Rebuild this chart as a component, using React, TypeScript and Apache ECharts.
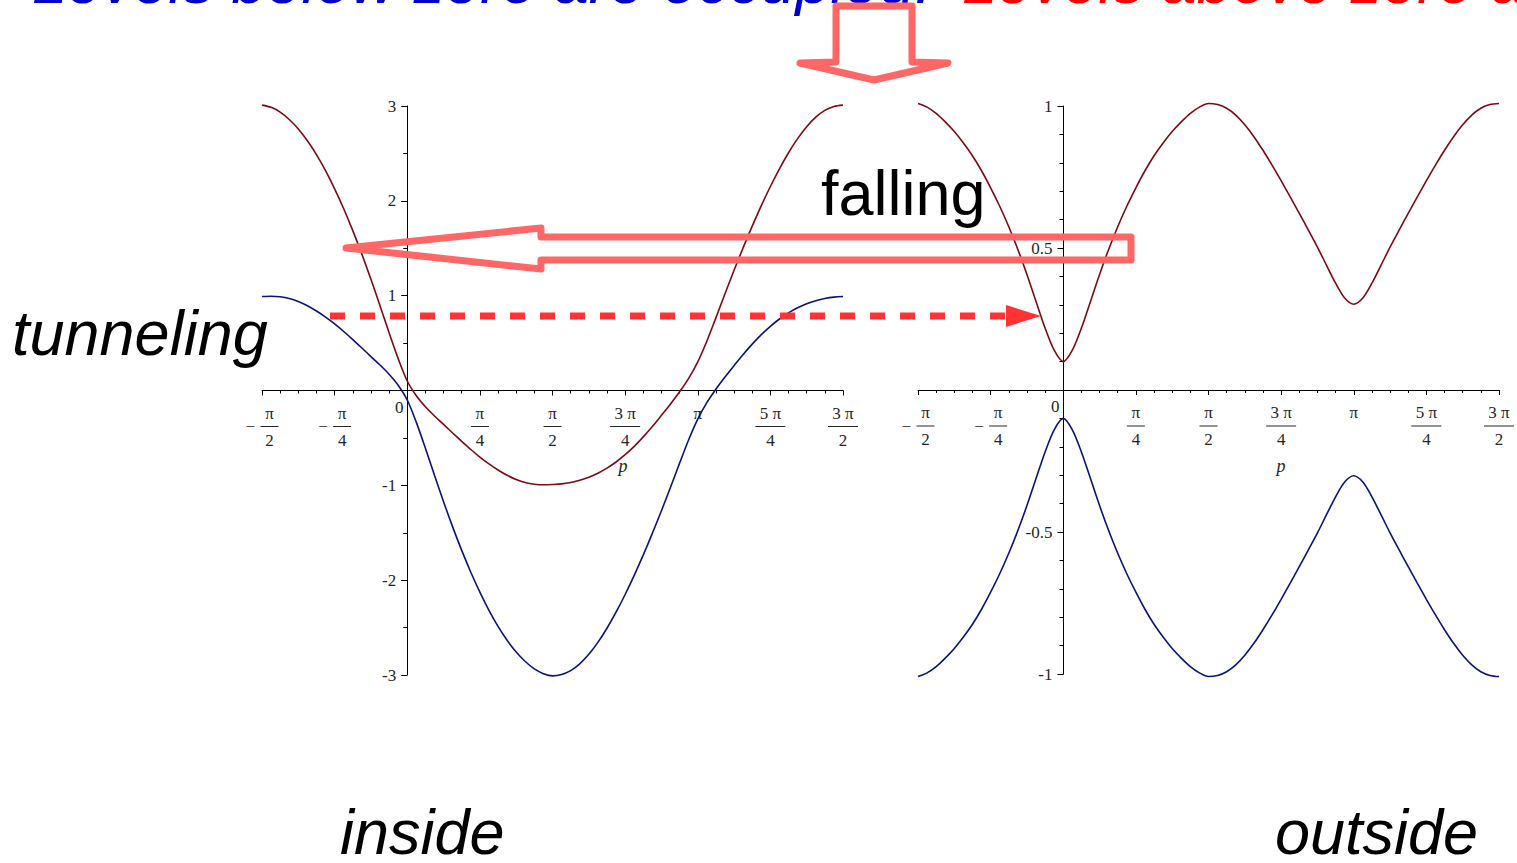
import React, { useEffect, useRef } from 'react';
import * as echarts from 'echarts';

// Momentum p, in units of π
const momentum = [
  -0.5, -0.46875, -0.4375, -0.40625, -0.375, -0.34375, -0.3125, -0.28125,
  -0.25, -0.21875, -0.1875, -0.15625, -0.125, -0.09375, -0.0625, -0.03125,
  0, 0.03125, 0.0625, 0.09375, 0.125, 0.15625, 0.1875, 0.21875,
  0.25, 0.28125, 0.3125, 0.34375, 0.375, 0.40625, 0.4375, 0.46875,
  0.5, 0.53125, 0.5625, 0.59375, 0.625, 0.65625, 0.6875, 0.71875,
  0.75, 0.78125, 0.8125, 0.84375, 0.875, 0.90625, 0.9375, 0.96875,
  1, 1.03125, 1.0625, 1.09375, 1.125, 1.15625, 1.1875, 1.21875,
  1.25, 1.28125, 1.3125, 1.34375, 1.375, 1.40625, 1.4375, 1.46875, 1.5,
];

// Inside: the two bands
const insideUpper = [
  3.009, 2.986, 2.936, 2.858, 2.758, 2.634, 2.488, 2.318,
  2.126, 1.916, 1.686, 1.438, 1.172, 0.893, 0.608, 0.336,
  0.1, -0.056, -0.172, -0.269, -0.358, -0.448, -0.536, -0.622,
  -0.702, -0.774, -0.838, -0.894, -0.938, -0.97, -0.988, -0.994,
  -0.991, -0.985, -0.97, -0.946, -0.914, -0.872, -0.819, -0.754,
  -0.677, -0.589, -0.489, -0.38, -0.262, -0.142, -0.014, 0.128,
  0.302, 0.52, 0.766, 1.02, 1.268, 1.506, 1.733, 1.949,
  2.151, 2.338, 2.507, 2.656, 2.782, 2.882, 2.954, 2.995, 3.009,
];
const insideLower = [
  0.991, 0.994, 0.988, 0.97, 0.938, 0.894, 0.838, 0.774,
  0.702, 0.622, 0.536, 0.448, 0.358, 0.269, 0.172, 0.056,
  -0.1, -0.336, -0.608, -0.893, -1.172, -1.438, -1.686, -1.916,
  -2.126, -2.318, -2.488, -2.634, -2.758, -2.858, -2.936, -2.986,
  -3.009, -2.995, -2.954, -2.882, -2.782, -2.656, -2.507, -2.338,
  -2.151, -1.949, -1.733, -1.506, -1.268, -1.02, -0.766, -0.52,
  -0.302, -0.128, 0.014, 0.142, 0.262, 0.38, 0.489, 0.589,
  0.677, 0.754, 0.819, 0.872, 0.914, 0.946, 0.97, 0.985, 0.991,
];

// Outside: the two bands
const outsideUpper = [
  1.009, 0.996, 0.974, 0.944, 0.91, 0.87, 0.825, 0.772,
  0.712, 0.647, 0.575, 0.495, 0.407, 0.312, 0.218, 0.14,
  0.1, 0.14, 0.218, 0.312, 0.407, 0.495, 0.575, 0.647,
  0.712, 0.772, 0.825, 0.87, 0.91, 0.944, 0.974, 0.996,
  1.009, 1.005, 0.992, 0.968, 0.934, 0.892, 0.844, 0.792,
  0.737, 0.68, 0.622, 0.563, 0.503, 0.439, 0.376, 0.324,
  0.302, 0.324, 0.376, 0.439, 0.503, 0.563, 0.622, 0.68,
  0.737, 0.792, 0.844, 0.892, 0.934, 0.968, 0.992, 1.005, 1.009,
];
const outsideLower = [
  -1.009, -0.996, -0.974, -0.944, -0.91, -0.87, -0.825, -0.772,
  -0.712, -0.647, -0.575, -0.495, -0.407, -0.312, -0.218, -0.14,
  -0.1, -0.14, -0.218, -0.312, -0.407, -0.495, -0.575, -0.647,
  -0.712, -0.772, -0.825, -0.87, -0.91, -0.944, -0.974, -0.996,
  -1.009, -1.005, -0.992, -0.968, -0.934, -0.892, -0.844, -0.792,
  -0.737, -0.68, -0.622, -0.563, -0.503, -0.439, -0.376, -0.324,
  -0.302, -0.324, -0.376, -0.439, -0.503, -0.563, -0.622, -0.68,
  -0.737, -0.792, -0.844, -0.892, -0.934, -0.968, -0.992, -1.005, -1.009,
];

// Tick labels of the momentum axis
const xTickValues = [-0.5, -0.25, 0, 0.25, 0.5, 0.75, 1, 1.25, 1.5];
const xTickLabels = ['-π/2', '-π/4', '0', 'π/4', 'π/2', '3 π/4', 'π', '5 π/4', '3 π/2'];

const SERIF = '"Liberation Serif", "Times New Roman", serif';
const SANS = '"Liberation Sans", Arial, Helvetica, sans-serif';
const BAND_RED = '#7C0A14';
const BAND_BLUE = '#0A1478';
const ARROW = '#FF6666';
const DASH = '#FF3333';
const LABEL = '#262626';

// Maple-style stacked fractions for the tick labels
function piLabel(value: number): string {
  const i = xTickValues.findIndex((v) => Math.abs(v - value) < 1e-6);
  if (i < 0) return '';
  const lab = xTickLabels[i];
  if (lab === '0') return '{zero|0}';
  if (lab.indexOf('/') < 0) return `{num|${lab}}`;
  const neg = lab.startsWith('-');
  const body = neg ? lab.slice(1) : lab;
  const [num, den] = body.split('/');
  const w = num.length > 1 ? 'w' : '';
  if (neg) {
    return `{sp| }{num${w}|${num}}\n{minus|−}{bar${w}| }\n{sp| }{num${w}|${den}}`;
  }
  return `{num${w}|${num}}\n{bar${w}| }\n{num${w}|${den}}`;
}

const fractionRich = {
  num: { width: 18, align: 'center', fontSize: 17, lineHeight: 13, fontFamily: SERIF, color: LABEL },
  numw: { width: 30, align: 'center', fontSize: 17, lineHeight: 13, fontFamily: SERIF, color: LABEL },
  bar: { width: 18, height: 1, lineHeight: 14, backgroundColor: LABEL },
  barw: { width: 30, height: 1, lineHeight: 14, backgroundColor: LABEL },
  sp: { width: 15, lineHeight: 13, fontSize: 17 },
  minus: { width: 15, align: 'left', fontSize: 17, lineHeight: 14, fontFamily: SERIF, color: LABEL },
  zero: { fontSize: 17, lineHeight: 1, padding: [0, 16, 0, 0], fontFamily: SERIF, color: LABEL },
};

// The axes cross at the origin: each one is shifted from the grid edge onto the other's zero
function xAxisFor(gridIndex: number, offset: number) {
  return {
    type: 'value',
    gridIndex,
    position: 'bottom',
    offset,
    min: -0.5,
    max: 1.5,
    interval: 0.25,
    axisLine: { onZero: false, lineStyle: { color: '#000', width: 1 } },
    axisTick: { show: true, length: 5, lineStyle: { color: '#000', width: 1 } },
    minorTick: { show: true, splitNumber: 4, length: 3, lineStyle: { color: '#000', width: 1 } },
    splitLine: { show: false },
    minorSplitLine: { show: false },
    axisLabel: {
      formatter: piLabel,
      margin: 16,
      fontFamily: SERIF,
      fontSize: 17,
      lineHeight: 13,
      color: LABEL,
      rich: fractionRich,
      showMinLabel: true,
      showMaxLabel: true,
    },
  };
}

function yAxisFor(gridIndex: number, offset: number, min: number, max: number, interval: number, minorSplit: number) {
  return {
    type: 'value',
    gridIndex,
    position: 'left',
    offset,
    min,
    max,
    interval,
    axisLine: { show: true, onZero: false, lineStyle: { color: '#000', width: 1 } },
    axisTick: { show: true, length: 6, lineStyle: { color: '#000', width: 1 } },
    minorTick: { show: true, splitNumber: minorSplit, length: 4, lineStyle: { color: '#000', width: 1 } },
    splitLine: { show: false },
    minorSplitLine: { show: false },
    axisLabel: {
      formatter: (v: number) => (Math.abs(v) < 1e-9 ? '' : String(v)),
      margin: 11,
      fontFamily: SERIF,
      fontSize: 17,
      color: LABEL,
    },
  };
}

function band(data: number[], xAxisIndex: number, color: string) {
  return {
    type: 'line',
    xAxisIndex,
    yAxisIndex: xAxisIndex,
    data: momentum.map((p, i) => [p, data[i]]),
    smooth: 0.3,
    showSymbol: false,
    clip: false,
    lineStyle: { color, width: 1.6 },
    z: 3,
  };
}

function bigText(text: string, x: number, y: number, opts: Record<string, unknown> = {}) {
  return {
    type: 'text',
    x,
    y,
    z: 100,
    style: {
      text,
      font: `63px ${SANS}`,
      fill: '#000',
      lineHeight: 50,
      textAlign: 'left',
      textVerticalAlign: 'middle',
      verticalAlign: 'middle',
      ...opts,
    },
  };
}

const option = {
  animation: false,
  backgroundColor: '#ffffff',
  grid: [
    { left: 262, top: 106, width: 581, height: 569 },
    { left: 918, top: 106, width: 582, height: 568 },
  ],
  xAxis: [xAxisFor(0, -284.5), xAxisFor(1, -284)],
  yAxis: [yAxisFor(0, -145.25, -3, 3, 1, 2), yAxisFor(1, -145.5, -1, 1, 0.5, 5)],
  series: [
    band(insideUpper, 0, BAND_RED),
    band(insideLower, 0, BAND_BLUE),
    band(outsideUpper, 1, BAND_RED),
    band(outsideLower, 1, BAND_BLUE),
  ],
  graphic: [
    // headline
    bigText('Levels below zero are occupied.', 32, -19, { font: `italic 63px ${SANS}`, fill: '#0000CC' }),
    bigText('Levels above zero are empty.', 962, -19, { font: `italic 63px ${SANS}`, fill: '#FF0000' }),
    // hollow arrow pointing down
    {
      type: 'polygon',
      z: 100,
      shape: { points: [[836, 6], [912, 6], [912, 62], [948, 63], [874, 80], [800, 63], [836, 62]] },
      style: { fill: 'none', stroke: ARROW, lineWidth: 7, lineJoin: 'round' },
    },
    // hollow arrow pointing left
    {
      type: 'polygon',
      z: 100,
      shape: { points: [[346, 248], [541, 228], [541, 237], [1131, 237], [1131, 260], [541, 260], [541, 269]] },
      style: { fill: 'none', stroke: ARROW, lineWidth: 7, lineJoin: 'round' },
    },
    // dashed tunneling arrow
    {
      type: 'line',
      z: 100,
      shape: { x1: 330, y1: 316, x2: 1006, y2: 316 },
      style: { stroke: DASH, lineWidth: 7, lineDash: [15, 15] },
    },
    {
      type: 'polygon',
      z: 100,
      shape: { points: [[1006, 305], [1041, 316], [1006, 327]] },
      style: { fill: DASH },
    },
    bigText('falling', 821, 193),
    bigText('tunneling', 12, 333, { font: `italic 63px ${SANS}` }),
    bigText('inside', 340, 832, { font: `italic 63px ${SANS}` }),
    bigText('outside', 1275, 832, { font: `italic 63px ${SANS}` }),
    // axis names
    {
      type: 'text',
      x: 623,
      y: 466,
      z: 50,
      style: { text: 'p', font: `italic 18px ${SERIF}`, fill: LABEL, textAlign: 'center', textVerticalAlign: 'middle', verticalAlign: 'middle' },
    },
    {
      type: 'text',
      x: 1281,
      y: 466,
      z: 50,
      style: { text: 'p', font: `italic 18px ${SERIF}`, fill: LABEL, textAlign: 'center', textVerticalAlign: 'middle', verticalAlign: 'middle' },
    },
  ],
};

export default function App() {
  const ref = useRef<HTMLDivElement>(null);
  useEffect(() => {
    if (!ref.current) return;
    const chart = echarts.init(ref.current, null, { renderer: 'svg' });
    chart.setOption(option as any);
    return () => chart.dispose();
  }, []);
  return (
    <div
      ref={ref}
      style={{ position: 'absolute', left: 0, top: 0, width: 1517, height: 863, background: '#fff' }}
    />
  );
}
